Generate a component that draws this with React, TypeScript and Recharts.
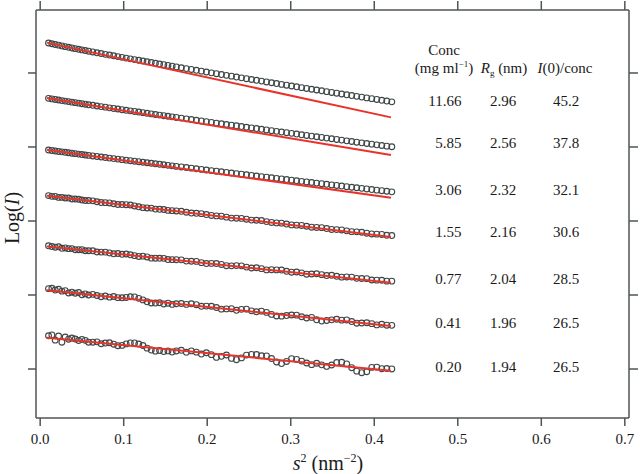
import React from 'react';
import { ScatterChart, Scatter, XAxis, YAxis } from 'recharts';

// s^2 (nm^-2) sampling of the measured curves
const s2Values = [
  0.010, 0.014, 0.018, 0.022, 0.026, 0.030, 0.034, 0.038, 0.042, 0.046, 0.050, 0.054, 0.058,
  0.063, 0.068, 0.073, 0.078, 0.083, 0.088, 0.093, 0.098, 0.103, 0.108, 0.113, 0.118, 0.123,
  0.128, 0.133, 0.138, 0.143, 0.148, 0.153, 0.158, 0.163,
  0.169, 0.175, 0.181, 0.187, 0.193, 0.199, 0.205, 0.211, 0.217, 0.223, 0.229, 0.235, 0.241,
  0.247, 0.253, 0.259, 0.265, 0.271, 0.277, 0.283, 0.289, 0.295, 0.301, 0.307, 0.313, 0.319,
  0.325, 0.331, 0.337, 0.343, 0.349, 0.355, 0.361, 0.367, 0.373, 0.379, 0.385, 0.391, 0.397,
  0.403, 0.409, 0.415, 0.421,
];

// Log(I), vertically offset curves (arbitrary units)
const logI_1166 = [
  4.405, 4.395, 4.385, 4.376, 4.366, 4.356, 4.347, 4.338, 4.329, 4.320, 4.312, 4.303, 4.294,
  4.284, 4.273, 4.263, 4.252, 4.242, 4.232, 4.221, 4.211, 4.201, 4.191, 4.181, 4.171, 4.161,
  4.151, 4.141, 4.131, 4.121, 4.112, 4.102, 4.092, 4.082,
  4.071, 4.059, 4.048, 4.036, 4.025, 4.013, 4.002, 3.990, 3.979, 3.968, 3.957, 3.945, 3.934,
  3.923, 3.912, 3.901, 3.890, 3.879, 3.868, 3.857, 3.846, 3.835, 3.824, 3.813, 3.802, 3.791,
  3.780, 3.770, 3.759, 3.748, 3.737, 3.727, 3.716, 3.705, 3.695, 3.684, 3.674, 3.663, 3.653,
  3.642, 3.631, 3.621, 3.610,
];
const logI_585 = [
  3.657, 3.650, 3.642, 3.635, 3.627, 3.620, 3.613, 3.606, 3.599, 3.592, 3.585, 3.578, 3.571,
  3.563, 3.554, 3.546, 3.538, 3.529, 3.521, 3.513, 3.504, 3.496, 3.488, 3.480, 3.472, 3.464,
  3.455, 3.447, 3.439, 3.431, 3.423, 3.415, 3.407, 3.399,
  3.390, 3.380, 3.371, 3.361, 3.352, 3.342, 3.333, 3.323, 3.314, 3.304, 3.295, 3.286, 3.276,
  3.267, 3.258, 3.249, 3.239, 3.230, 3.221, 3.211, 3.202, 3.193, 3.184, 3.175, 3.165, 3.156,
  3.147, 3.138, 3.129, 3.120, 3.111, 3.102, 3.093, 3.083, 3.074, 3.065, 3.056, 3.047, 3.038,
  3.029, 3.020, 3.011, 3.003,
];
const logI_306 = [
  2.959, 2.953, 2.946, 2.940, 2.934, 2.928, 2.922, 2.916, 2.910, 2.904, 2.898, 2.892, 2.886,
  2.879, 2.872, 2.865, 2.858, 2.850, 2.843, 2.836, 2.829, 2.822, 2.815, 2.808, 2.801, 2.794,
  2.787, 2.780, 2.773, 2.766, 2.759, 2.752, 2.745, 2.738,
  2.730, 2.722, 2.714, 2.705, 2.697, 2.689, 2.681, 2.673, 2.665, 2.657, 2.648, 2.640, 2.632,
  2.624, 2.616, 2.608, 2.600, 2.592, 2.584, 2.576, 2.568, 2.560, 2.552, 2.544, 2.536, 2.528,
  2.520, 2.512, 2.504, 2.496, 2.488, 2.480, 2.472, 2.464, 2.456, 2.449, 2.441, 2.433, 2.425,
  2.417, 2.409, 2.402, 2.394,
];
const logI_155 = [
  2.343, 2.333, 2.332, 2.319, 2.319, 2.311, 2.310, 2.298, 2.297, 2.294, 2.284, 2.276, 2.276,
  2.272, 2.260, 2.249, 2.248, 2.244, 2.233, 2.223, 2.222, 2.220, 2.216, 2.203, 2.192, 2.180,
  2.176, 2.174, 2.161, 2.158, 2.155, 2.143, 2.140, 2.136,
  2.131, 2.118, 2.107, 2.104, 2.099, 2.087, 2.075, 2.069, 2.065, 2.052, 2.039, 2.038, 2.035,
  2.024, 2.012, 2.010, 2.006, 1.992, 1.980, 1.974, 1.971, 1.959, 1.947, 1.944, 1.940, 1.929,
  1.916, 1.913, 1.910, 1.898, 1.886, 1.884, 1.879, 1.867, 1.856, 1.853, 1.848, 1.835, 1.825,
  1.822, 1.818, 1.807, 1.803,
];
const logI_077 = [
  1.665, 1.655, 1.646, 1.651, 1.631, 1.636, 1.626, 1.627, 1.612, 1.612, 1.612, 1.598, 1.598,
  1.597, 1.581, 1.580, 1.579, 1.568, 1.557, 1.561, 1.550, 1.554, 1.543, 1.532, 1.521, 1.525,
  1.514, 1.498, 1.497, 1.496, 1.495, 1.479, 1.478, 1.477,
  1.475, 1.458, 1.456, 1.454, 1.437, 1.425, 1.427, 1.425, 1.413, 1.396, 1.394, 1.397, 1.394,
  1.377, 1.365, 1.368, 1.356, 1.339, 1.342, 1.339, 1.337, 1.320, 1.308, 1.311, 1.299, 1.281,
  1.284, 1.287, 1.275, 1.263, 1.266, 1.253, 1.241, 1.244, 1.242, 1.225, 1.223, 1.221, 1.203,
  1.201, 1.199, 1.187, 1.187,
];
const logI_041 = [
  1.086, 1.091, 1.067, 1.077, 1.052, 1.058, 1.028, 1.038, 1.024, 1.034, 1.004, 1.015, 1.000,
  1.009, 0.993, 0.977, 0.986, 0.971, 0.980, 0.964, 0.963, 0.967, 0.976, 0.975, 0.955, 0.934,
  0.908, 0.892, 0.891, 0.895, 0.879, 0.889, 0.873, 0.882,
  0.885, 0.873, 0.881, 0.869, 0.847, 0.850, 0.848, 0.831, 0.809, 0.812, 0.815, 0.793, 0.806,
  0.809, 0.786, 0.774, 0.782, 0.765, 0.738, 0.716, 0.714, 0.722, 0.730, 0.728, 0.706, 0.689,
  0.697, 0.665, 0.648, 0.656, 0.664, 0.672, 0.660, 0.663, 0.641, 0.619, 0.622, 0.625, 0.613,
  0.596, 0.604, 0.592, 0.590,
];
const logI_020 = [
  0.449, 0.460, 0.390, 0.446, 0.362, 0.432, 0.403, 0.419, 0.405, 0.385, 0.401, 0.387, 0.362,
  0.362, 0.367, 0.341, 0.351, 0.355, 0.335, 0.315, 0.319, 0.339, 0.353, 0.353, 0.338, 0.317,
  0.282, 0.256, 0.241, 0.251, 0.235, 0.245, 0.229, 0.244,
  0.253, 0.226, 0.245, 0.228, 0.202, 0.220, 0.194, 0.157, 0.171, 0.189, 0.143, 0.126, 0.150,
  0.188, 0.197, 0.196, 0.179, 0.178, 0.141, 0.095, 0.073, 0.102, 0.140, 0.129, 0.107, 0.081,
  0.059, 0.078, 0.056, 0.035, 0.054, 0.087, 0.091, 0.069, 0.018, -0.029, -0.050, -0.037, 0.022,
  0.025, 0.004, 0.007, 0.001,
];

// Guinier fit lines: value at start and end of fit range
const fitS2 = [0.008, 0.420];
const fitStart = [4.410, 3.661, 2.962, 2.341, 1.657, 1.063, 0.421];
const fitEnd = [3.400, 2.892, 2.315, 1.784, 1.166, 0.581, -0.023];

// Table
const concLabels = ['11.66', '5.85', '3.06', '1.55', '0.77', '0.41', '0.20'];
const rgLabels = ['2.96', '2.56', '2.32', '2.16', '2.04', '1.96', '1.94'];
const i0Labels = ['45.2', '37.8', '32.1', '30.6', '28.5', '26.5', '26.5'];

const xTicks = [0, 0.1, 0.2, 0.3, 0.4, 0.5, 0.6, 0.7];
const yTicks = [0, 1, 2, 3, 4];

const seriesList = [logI_1166, logI_585, logI_306, logI_155, logI_077, logI_041, logI_020];

// layout
const tableBaselines = [106, 148, 195, 237, 284, 328, 372];
const SERIF = '"Liberation Serif", "Times New Roman", serif';
const AXIS = '#4f5454';
const CIRCLE = '#3e4747';
const RED = '#e8332a';
const TEXT = '#1a1a1a';
const X_DOMAIN = [-0.005, 0.705];
const Y_DOMAIN = [-0.662, 4.851];

const Ring = (p: any) =>
  p.cx == null ? null : (
    <circle cx={p.cx} cy={p.cy} r={2.9} fill="none" stroke={CIRCLE} strokeWidth={1.1} />
  );
const NoShape = () => null;
const NoTick = () => null;

export default function App() {
  const scatterData = seriesList.map((vals) => s2Values.map((x, i) => ({ x, y: vals[i] })));
  const fitData = fitStart.map((a, k) => [
    { x: fitS2[0], y: a },
    { x: fitS2[1], y: fitEnd[k] },
  ]);

  return (
    <div style={{ position: 'absolute', left: 0, top: 0, width: 640, height: 474, background: '#fff' }}>
      <ScatterChart width={640} height={474} margin={{ top: 9, right: 10, bottom: 26, left: 0 }}>
        <XAxis
          xAxisId="b"
          type="number"
          dataKey="x"
          domain={X_DOMAIN}
          ticks={xTicks}
          allowDataOverflow
          interval={0}
          tickFormatter={(v: number) => v.toFixed(1)}
          height={30}
          stroke={AXIS}
          strokeWidth={1.5}
          tickSize={8}
          tickMargin={7}
          tick={{ fontFamily: SERIF, fontSize: 15, fill: TEXT }}
        />
        <XAxis
          xAxisId="t"
          orientation="top"
          type="number"
          dataKey="x"
          domain={X_DOMAIN}
          ticks={xTicks}
          allowDataOverflow
          interval={0}
          height={1}
          stroke={AXIS}
          strokeWidth={1.5}
          tickSize={9}
          tick={NoTick}
        />
        <YAxis
          yAxisId="l"
          type="number"
          dataKey="y"
          domain={Y_DOMAIN}
          ticks={yTicks}
          allowDataOverflow
          interval={0}
          width={36}
          stroke={AXIS}
          strokeWidth={1.5}
          tickSize={8}
          tick={NoTick}
        />
        <YAxis
          yAxisId="r"
          orientation="right"
          type="number"
          dataKey="y"
          domain={Y_DOMAIN}
          ticks={yTicks}
          allowDataOverflow
          interval={0}
          width={1}
          stroke={AXIS}
          strokeWidth={1.5}
          tickSize={9}
          tick={NoTick}
        />
        {/* invisible series so the top and right frame axes are drawn */}
        <Scatter
          xAxisId="t"
          yAxisId="r"
          data={fitData[0]}
          shape={NoShape}
          isAnimationActive={false}
        />
        {scatterData.map((d, k) => (
          <Scatter
            key={'pts' + k}
            xAxisId="b"
            yAxisId="l"
            data={d}
            shape={Ring}
            isAnimationActive={false}
          />
        ))}
        {fitData.map((d, k) => (
          <Scatter
            key={'fit' + k}
            xAxisId="b"
            yAxisId="l"
            data={d}
            shape={NoShape}
            line={{ stroke: RED, strokeWidth: 2 }}
            lineType="joint"
            isAnimationActive={false}
          />
        ))}
      </ScatterChart>
      <svg
        width={640}
        height={474}
        style={{ position: 'absolute', left: 0, top: 0, pointerEvents: 'none' }}
        fontFamily={SERIF}
        fill={TEXT}
      >
        <text x={19} y={218} fontSize={20} textAnchor="middle" transform="rotate(-90 19 218)">
          Log(<tspan fontStyle="italic">I</tspan>)
        </text>
        <text x={328} y={470} fontSize={20} textAnchor="middle">
          <tspan fontStyle="italic">s</tspan>
          <tspan fontSize={12} dy={-8}>2</tspan>
          <tspan dy={8}> (nm</tspan>
          <tspan fontSize={12} dy={-8}>−2</tspan>
          <tspan dy={8}>)</tspan>
        </text>
        <text x={444} y={55} fontSize={15} textAnchor="middle">Conc</text>
        <text x={444} y={73} fontSize={15} textAnchor="middle">
          (mg ml<tspan fontSize={9} dy={-6}>−1</tspan>
          <tspan dy={6}>)</tspan>
        </text>
        <text x={504} y={73} fontSize={15} textAnchor="middle">
          <tspan fontStyle="italic">R</tspan>
          <tspan fontSize={9} dy={3}>g</tspan>
          <tspan dy={-3}> (nm)</tspan>
        </text>
        <text x={565} y={73} fontSize={15} textAnchor="middle">
          <tspan fontStyle="italic">I</tspan>(0)/conc
        </text>
        {concLabels.map((c, i) => (
          <text key={'c' + i} x={461.5} y={tableBaselines[i]} fontSize={15} textAnchor="end">{c}</text>
        ))}
        {rgLabels.map((c, i) => (
          <text key={'r' + i} x={503} y={tableBaselines[i]} fontSize={15} textAnchor="middle">{c}</text>
        ))}
        {i0Labels.map((c, i) => (
          <text key={'i' + i} x={566} y={tableBaselines[i]} fontSize={15} textAnchor="middle">{c}</text>
        ))}
      </svg>
    </div>
  );
}
